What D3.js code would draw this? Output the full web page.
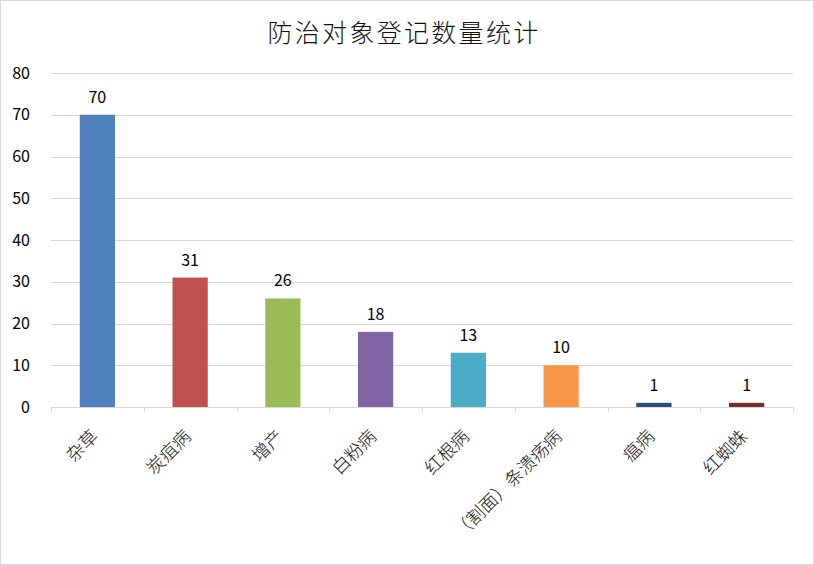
<!DOCTYPE html>
<html><head><meta charset="utf-8">
<script src="https://cdn.jsdelivr.net/npm/d3@7"></script>
<style>body{margin:0;background:#fff;} svg{display:block;}</style>
</head><body>
<svg id="c" width="814" height="565"></svg>
<script>
const categories = ["杂草","炭疽病","增产","白粉病","红根病","（割面）条溃疡病","瘟病","红蜘蛛"];
const values = [70,31,26,18,13,10,1,1];
const colors = ["#4F81BD","#C0504D","#9BBB59","#8064A2","#4BACC6","#F79646","#2C4D75","#772C2A"];
const yTicks = [0,10,20,30,40,50,60,70,80];
const title = "防治对象登记数量统计";

const svg = d3.select("#c");
const font = "'Noto Sans CJK SC','Microsoft YaHei',sans-serif";
svg.append("rect").attr("x",0.5).attr("y",0.5).attr("width",813).attr("height",564)
  .attr("fill","#fff").attr("stroke","#d9d9d9");

const m = {l:51, r:793, t:73, b:407};
const x = d3.scaleBand().domain(categories).range([m.l,m.r]).paddingInner(0.62).paddingOuter(0.31);
const y = d3.scaleLinear().domain([0,80]).range([m.b,m.t]);

svg.append("text").attr("x",404).attr("y",42).attr("text-anchor","middle")
  .attr("font-family",font).attr("font-size",25).attr("letter-spacing",2.3).attr("font-weight",300)
  .attr("fill","#111").text(title);

const grid = svg.append("g");
grid.selectAll("line").data(yTicks.filter(d=>d>0)).join("line")
  .attr("x1",m.l).attr("x2",m.r).attr("y1",d=>Math.round(y(d))+0.5).attr("y2",d=>Math.round(y(d))+0.5)
  .attr("stroke","#d9d9d9").attr("stroke-width",1);

const yAxis = svg.append("g").attr("transform",`translate(${m.l},0)`)
  .call(d3.axisLeft(y).tickValues(yTicks).tickSize(0).tickPadding(21));
yAxis.select(".domain").remove();
yAxis.selectAll("text").attr("font-family",font).attr("font-size",16).attr("fill","#000");

svg.selectAll("rect.bar").data(values).join("rect").attr("class","bar")
  .attr("x",(d,i)=>x(categories[i])).attr("width",x.bandwidth())
  .attr("y",d=>y(d)).attr("height",d=>y(0)-y(d)).attr("fill",(d,i)=>colors[i]);

svg.selectAll("text.val").data(values).join("text").attr("class","val")
  .attr("x",(d,i)=>x(categories[i])+x.bandwidth()/2).attr("y",d=>y(d)-12)
  .attr("text-anchor","middle").attr("font-family",font).attr("font-size",16).attr("fill","#000")
  .text(d=>d);

// x axis
const step = (m.r-m.l)/categories.length;
const xa = svg.append("g");
xa.append("line").attr("x1",m.l).attr("x2",m.r).attr("y1",m.b+0.5).attr("y2",m.b+0.5).attr("stroke","#d9d9d9");
xa.selectAll("line.tk").data(d3.range(categories.length+1)).join("line").attr("class","tk")
  .attr("x1",i=>Math.round(m.l+i*step)+0.5).attr("x2",i=>Math.round(m.l+i*step)+0.5)
  .attr("y1",m.b).attr("y2",m.b+5).attr("stroke","#d9d9d9");
xa.selectAll("text").data(categories).join("text")
  .attr("transform",d=>`translate(${x(d)+x.bandwidth()/2-1.5},${m.b+27}) rotate(-45)`)
  .attr("text-anchor","end").attr("dominant-baseline","middle")
  .attr("font-family",font).attr("font-size",18).attr("font-weight",300).attr("fill","#111").text(d=>d);
</script>
</body></html>
